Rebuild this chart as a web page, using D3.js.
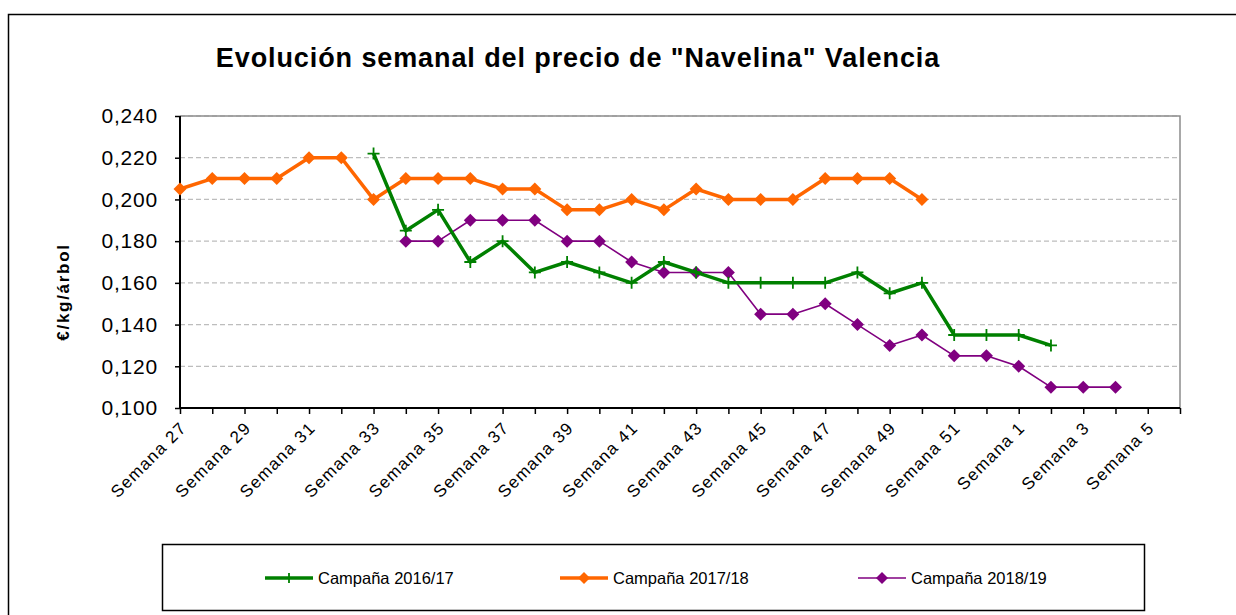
<!DOCTYPE html>
<html><head><meta charset="utf-8">
<script src="https://cdn.jsdelivr.net/npm/d3@7"></script>
<style>body{margin:0;background:#fff;font-family:"Liberation Sans",Arial,sans-serif;}</style>
</head><body><svg id="c" width="1236" height="615"></svg>
<script>
const weeks = [27,28,29,30,31,32,33,34,35,36,37,38,39,40,41,42,43,44,45,46,47,48,49,50,51,52,1,2,3,4,5,6];
const categories = weeks.map(w => "Semana " + w);
const yTicks = [0.10,0.12,0.14,0.16,0.18,0.20,0.22,0.24];
// values start at category index given by offset
const s1617Start = 6;
const s1617 = [0.222,0.185,0.195,0.170,0.180,0.165,0.170,0.165,0.160,0.170,0.165,0.160,0.160,0.160,0.160,0.165,0.155,0.160,0.135,0.135,0.135,0.130];
const s1718Start = 0;
const s1718 = [0.205,0.210,0.210,0.210,0.220,0.220,0.200,0.210,0.210,0.210,0.205,0.205,0.195,0.195,0.200,0.195,0.205,0.200,0.200,0.200,0.210,0.210,0.210,0.200];
const s1819Start = 7;
const s1819 = [0.180,0.180,0.190,0.190,0.190,0.180,0.180,0.170,0.165,0.165,0.165,0.145,0.145,0.150,0.140,0.130,0.135,0.125,0.125,0.120,0.110,0.110,0.110];
const seriesNames = ["Campaña 2016/17","Campaña 2017/18","Campaña 2018/19"];

const svg = d3.select("#c");
const F = '"Liberation Sans",Arial,sans-serif';
// outer border
svg.append("rect").attr("x",8.5).attr("y",14.5).attr("width",1240).attr("height",640)
  .attr("fill","#fff").attr("stroke","#000").attr("stroke-width",1.5);

const L = 180, R = 1180, T = 116, B = 408;
const x = d3.scalePoint().domain(categories).range([L,R]);
const y = d3.scaleLinear().domain([0.10,0.24]).range([B,T]);

// gridlines
svg.append("g").selectAll("line").data(yTicks.slice(1)).join("line")
  .attr("x1",L).attr("x2",R).attr("y1",d=>y(d)).attr("y2",d=>y(d))
  .attr("stroke","#bdbdbd").attr("stroke-width",1.2).attr("stroke-dasharray","5,3");
// plot border top/right
svg.append("path").attr("d",`M${L},${T}H${R}V${B}`).attr("fill","none").attr("stroke","#8c8c8c").attr("stroke-width",1.5);

// axes
const fmt = d => d3.format(".3f")(d).replace(".",",");
const yAxis = svg.append("g").attr("transform",`translate(${L},0)`)
  .call(d3.axisLeft(y).tickValues(yTicks).tickFormat(fmt).tickSize(5).tickPadding(17));
yAxis.select(".domain").attr("stroke","#000").attr("stroke-width",2).attr("d",`M0,${T}V${B}`);
yAxis.selectAll(".tick line").attr("stroke","#000").attr("stroke-width",1.5);
yAxis.selectAll("text").attr("font-family",F).attr("font-size",21).attr("letter-spacing","0.8px").attr("fill","#000");

const xAxis = svg.append("g").attr("transform",`translate(0,${B})`)
  .call(d3.axisBottom(x).tickSize(6).tickFormat((d,i)=> i%2===0 && i<31 ? d : ""));
xAxis.select(".domain").attr("stroke","#000").attr("stroke-width",2).attr("d",`M${L},0H${R}`);
xAxis.selectAll(".tick line").attr("stroke","#000").attr("stroke-width",1.5);
xAxis.selectAll("text").attr("font-family",F).attr("font-size",17).attr("letter-spacing","1.3px").attr("fill","#000")
  .attr("text-anchor","end").attr("dy",0).attr("y",0)
  .attr("transform","translate(7,21) rotate(-45)");

// series
const mk = (arr,start) => arr.map((v,i)=>({c:categories[start+i],v}));
const line = d3.line().x(d=>x(d.c)).y(d=>y(d.v));
const diamond = (s) => `M0,${-s}L${s},0L0,${s}L${-s},0Z`;

function drawSeries(data,color,width,marker){
  const g = svg.append("g");
  g.append("path").datum(data).attr("d",line).attr("fill","none").attr("stroke",color).attr("stroke-width",width).attr("stroke-linejoin","round");
  const m = g.selectAll("g").data(data).join("g").attr("transform",d=>`translate(${x(d.c)},${y(d.v)})`);
  if(marker==="plus"){
    m.append("path").attr("d","M-6,0H6M0,-6V6").attr("stroke",color).attr("stroke-width",1.8);
  } else {
    m.append("path").attr("d",diamond(marker)).attr("fill",color);
  }
}
drawSeries(mk(s1819,s1819Start),"#800080",1.6,6.5);
drawSeries(mk(s1718,s1718Start),"#FF6600",3.5,6.5);
drawSeries(mk(s1617,s1617Start),"#008000",3.5,"plus");

// title
svg.append("text").attr("x",578).attr("y",67).attr("text-anchor","middle")
  .attr("font-family",F).attr("font-weight","bold").attr("font-size",27).attr("letter-spacing","0.9px")
  .text('Evolución semanal del precio de "Navelina" Valencia');
// y label
svg.append("text").attr("transform","translate(69,292) rotate(-90)").attr("text-anchor","middle")
  .attr("font-family",F).attr("font-weight","bold").attr("font-size",17).attr("letter-spacing","1.7px").text("€/kg/árbol");

// legend
svg.append("rect").attr("x",162.5).attr("y",544.5).attr("width",982).attr("height",66).attr("fill","#fff").attr("stroke","#000").attr("stroke-width",1.5);
const legItems = [
  {name:seriesNames[0],color:"#008000",w:3.5,m:"plus",lx:265},
  {name:seriesNames[1],color:"#FF6600",w:3.5,m:6,lx:560},
  {name:seriesNames[2],color:"#800080",w:1.6,m:6,lx:858}
];
const ly = 578;
legItems.forEach(it=>{
  const g = svg.append("g");
  g.append("line").attr("x1",it.lx).attr("x2",it.lx+48).attr("y1",ly).attr("y2",ly).attr("stroke",it.color).attr("stroke-width",it.w);
  if(it.m==="plus") g.append("path").attr("d",`M${it.lx+24},${ly-5}V${ly+5}`).attr("stroke",it.color).attr("stroke-width",1.8);
  else g.append("path").attr("transform",`translate(${it.lx+24},${ly})`).attr("d",diamond(it.m)).attr("fill",it.color);
  g.append("text").attr("x",it.lx+53).attr("y",ly+6).attr("font-family",F).attr("font-size",16.5).text(it.name);
});
</script></body></html>
